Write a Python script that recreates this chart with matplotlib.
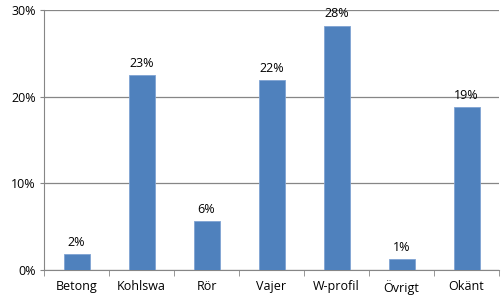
import matplotlib
matplotlib.use("Agg")
import matplotlib.pyplot as plt
from matplotlib.ticker import FixedLocator, PercentFormatter

categories = ["Betong", "Kohlswa", "Rör", "Vajer", "W-profil", "Övrigt", "Okänt"]
values = [1.85, 22.5, 5.65, 21.9, 28.2, 1.23, 18.8]
labels = ["2%", "23%", "6%", "22%", "28%", "1%", "19%"]

plt.rcParams['font.family'] = ['Open Sans', 'DejaVu Sans']
grey = "#868686"

fig = plt.figure(figsize=(5.01, 2.96), dpi=100)
ax = fig.add_axes([44/501, 26/296, 455/501, 260/296])

x = list(range(len(categories)))
ax.bar(x, values, width=0.4, color="#4F81BD", edgecolor="#7FA3D3", linewidth=0.6, zorder=3)
for xi, v, lab in zip(x, values, labels):
    ax.text(xi, v + 0.6, lab, ha="center", va="bottom", fontsize=9, color="black", zorder=4)

ax.set_xlim(-0.5, len(categories) - 0.5)
ax.set_ylim(0, 30)
ax.set_yticks([0, 10, 20, 30])
ax.yaxis.set_major_formatter(PercentFormatter(decimals=0))
ax.grid(axis="y", color=grey, linewidth=0.9, zorder=0)

ax.set_xticks(x)
ax.set_xticklabels(categories)
ax.xaxis.set_minor_locator(FixedLocator([i - 0.5 for i in range(len(categories) + 1)]))
ax.tick_params(axis="x", which="major", length=0, pad=7.5, labelsize=9)
ax.tick_params(axis="x", which="minor", length=4, color=grey, direction="out")
ax.tick_params(axis="y", length=3, color=grey, labelsize=9, pad=3)

for s in ["top", "right"]:
    ax.spines[s].set_visible(False)
ax.spines["left"].set_color(grey)
ax.spines["bottom"].set_color(grey)

fig.savefig("out.png", dpi=100)
